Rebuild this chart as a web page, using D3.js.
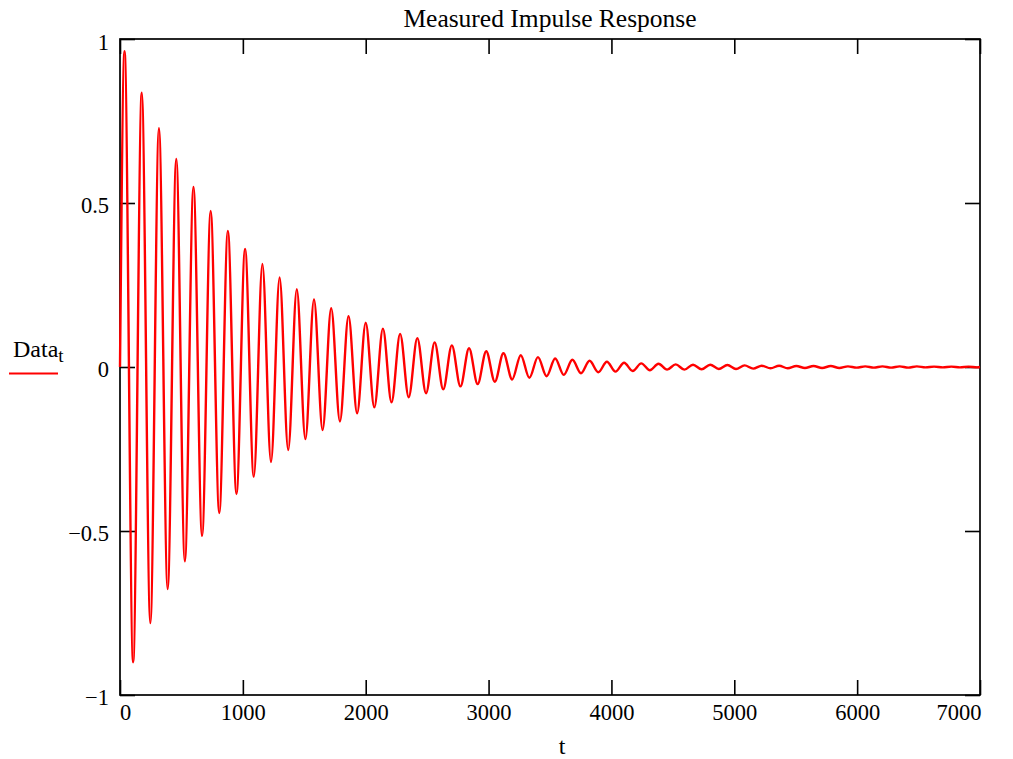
<!DOCTYPE html>
<html>
<head>
<meta charset="utf-8">
<script src="https://cdn.jsdelivr.net/npm/d3@7"></script>
<style>
  body { margin: 0; background: #fff; }
  svg { display: block; font-family: "Liberation Serif", "Times New Roman", serif; }
</style>
</head>
<body>
<div class="svg-div"></div>
<script>
// positive peaks of the measured response (time, value)
const peakT = [37, 177, 317, 458, 598, 738, 878, 1018, 1159, 1299,
    1439, 1579, 1719, 1860, 2000, 2140, 2280, 2420, 2561, 2701,
    2841, 2981, 3121, 3262, 3402, 3542, 3682, 3822, 3963, 4103,
    4243, 4383, 4523, 4664, 4804, 4944, 5084, 5224, 5365, 5505,
    5645, 5785, 5925, 6066, 6206, 6346, 6486, 6626, 6767, 6907]
const peakV = [0.963, 0.836, 0.728, 0.634, 0.549, 0.476, 0.415, 0.360, 0.314, 0.273,
    0.237, 0.206, 0.179, 0.155, 0.135, 0.117, 0.101, 0.088, 0.075, 0.066,
    0.057, 0.048, 0.042, 0.036, 0.030, 0.026, 0.022, 0.019, 0.016, 0.013,
    0.011, 0.010, 0.008, 0.007, 0.007, 0.006, 0.005, 0.004, 0.004, 0.003,
    0.003, 0.003, 0.002, 0.002, 0.002, 0.002, 0.002, 0.001, 0.001, 0.001]

// negative troughs
const troughT = [107, 247, 388, 528, 668, 808, 948, 1089, 1229, 1369,
    1509, 1649, 1790, 1930, 2070, 2210, 2350, 2491, 2631, 2771,
    2911, 3051, 3192, 3332, 3472, 3612, 3752, 3893, 4033, 4173,
    4313, 4453, 4594, 4734, 4874, 5014, 5154, 5295, 5435, 5575,
    5715, 5855, 5996, 6136, 6276, 6416, 6556, 6697, 6837, 6977]
const troughV = [-0.900, -0.781, -0.677, -0.592, -0.515, -0.445, -0.387, -0.335, -0.290, -0.253,
    -0.220, -0.192, -0.166, -0.141, -0.123, -0.108, -0.092, -0.080, -0.068, -0.059,
    -0.052, -0.045, -0.038, -0.033, -0.028, -0.024, -0.019, -0.016, -0.014, -0.012,
    -0.010, -0.008, -0.008, -0.007, -0.006, -0.006, -0.005, -0.004, -0.004, -0.003,
    -0.003, -0.003, -0.002, -0.002, -0.002, -0.002, -0.001, -0.001, -0.001, -0.001]

const startPoint = [0, 0]
const endPoint = [7000, 0]

const xTicks = [0, 1000, 2000, 3000, 4000, 5000, 6000, 7000]
const yTicks = [-1, -0.5, 0, 0.5, 1]

const chartTitle = 'Measured Impulse Response'
const xLabel = 't'
const legendName = 'Data'
const legendSub = 't'

const w = 1013
const h = 759
const margin = { top: 39, right: 33, bottom: 64, left: 120 }
const tickLen = 15
const fontSize = 22.5

const xScale = d3.scaleLinear()
    .domain([0, 7000])
    .range([margin.left, w - margin.right])

const yScale = d3.scaleLinear()
    .domain([-1, 1])
    .range([h - margin.bottom, margin.top])

// build the series
const points = [startPoint]
peakT.forEach((t, i) => points.push([t, peakV[i]]))
troughT.forEach((t, i) => points.push([t, troughV[i]]))
points.push(endPoint)
points.sort((a, b) => a[0] - b[0])

const svg = d3.select('.svg-div')
    .append('svg')
    .attr('width', w)
    .attr('height', h)

const fmt = d3.format('')

// bottom axis, labels under the frame, ticks pointing in
const xAxis = d3.axisBottom(xScale)
    .tickValues(xTicks)
    .tickSize(-tickLen)
    .tickPadding(9)
    .tickFormat(fmt)

const gx = svg.append('g')
    .attr('transform', 'translate(0,' + (h - margin.bottom) + ')')
    .call(xAxis)
gx.selectAll('text')
    .attr('text-anchor', (d, i) => i === 0 ? 'start' : (i === xTicks.length - 1 ? 'end' : 'middle'))
    .attr('dx', (d, i) => i === 0 ? '-0.5' : (i === xTicks.length - 1 ? '1' : '0'))

// top axis, ticks only
svg.append('g')
    .attr('transform', 'translate(0,' + margin.top + ')')
    .call(d3.axisTop(xScale).tickValues(xTicks).tickSize(-tickLen).tickFormat(''))

// left axis
const gy = svg.append('g')
    .attr('transform', 'translate(' + margin.left + ',0)')
    .call(d3.axisLeft(yScale).tickValues(yTicks).tickSize(-tickLen).tickPadding(11).tickFormat(fmt))
gy.selectAll('text')
    .attr('dy', (d) => d === 1 ? '0.45em' : '0.42em')

// right axis, ticks only
svg.append('g')
    .attr('transform', 'translate(' + (w - margin.right) + ',0)')
    .call(d3.axisRight(yScale).tickValues(yTicks).tickSize(-tickLen).tickFormat(''))

svg.selectAll('.domain').remove()
svg.selectAll('.tick line')
    .attr('stroke', '#000')
    .attr('stroke-width', 1.6)
svg.selectAll('.tick text')
    .attr('fill', '#000')
    .style('font-size', fontSize + 'px')
    .style('font-family', '"Liberation Serif", "Times New Roman", serif')

// frame
svg.append('rect')
    .attr('x', xScale(0))
    .attr('y', yScale(1))
    .attr('width', xScale(7000) - xScale(0))
    .attr('height', yScale(-1) - yScale(1))
    .attr('fill', 'none')
    .attr('stroke', '#000')
    .attr('stroke-width', 1.7)

// the response
const line = d3.line()
    .x((d) => xScale(d[0]))
    .y((d) => yScale(d[1]))
    .curve(d3.curveMonotoneX)

svg.append('path')
    .datum(points)
    .attr('d', line)
    .attr('fill', 'none')
    .attr('stroke', '#ff0000')
    .attr('stroke-width', 2.4)
    .attr('stroke-linejoin', 'round')

// title
svg.append('text')
    .attr('x', (xScale(0) + xScale(7000)) / 2)
    .attr('y', 27)
    .attr('text-anchor', 'middle')
    .style('font-size', '25.5px')
    .text(chartTitle)

// x label
svg.append('text')
    .attr('x', 562)
    .attr('y', 754)
    .attr('text-anchor', 'middle')
    .style('font-size', '24px')
    .text(xLabel)

// legend
const legend = svg.append('text')
    .attr('x', 13)
    .attr('y', 357)
    .style('font-size', '24px')
legend.append('tspan').text(legendName)
legend.append('tspan')
    .attr('dy', 5)
    .style('font-size', '19px')
    .text(legendSub)

svg.append('line')
    .attr('x1', 9)
    .attr('x2', 58)
    .attr('y1', 373.5)
    .attr('y2', 373.5)
    .attr('stroke', '#ff0000')
    .attr('stroke-width', 2)
</script>
</body>
</html>
